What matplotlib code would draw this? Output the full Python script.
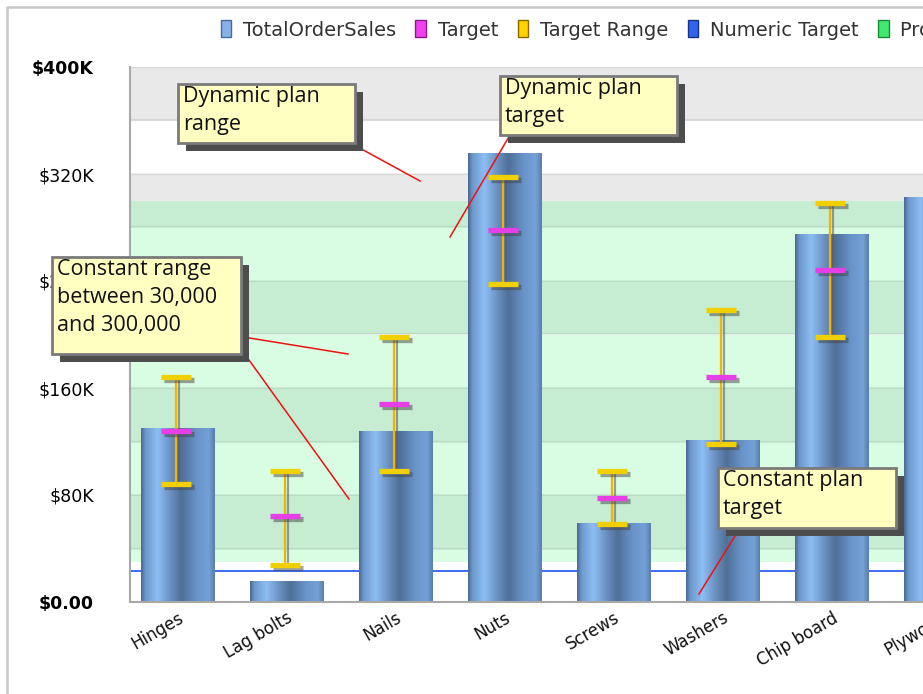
import numpy as np
import matplotlib.pyplot as plt
import matplotlib.patheffects as pe
from matplotlib.patches import Patch, Rectangle
from matplotlib.lines import Line2D
from matplotlib.colors import LinearSegmentedColormap

W, H = 923, 694

categories = ['Hinges', 'Lag bolts', 'Nails', 'Nuts', 'Screws', 'Washers', 'Chip board', 'Plywood']
order_sales = [130000, 15500, 128000, 336000, 59000, 121000, 275000, 303000]
targets = [128000, 64000, 148000, 278000, 78000, 168000, 248000, np.nan]
range_low = [88000, 28000, 98000, 238000, 58000, 118000, 198000, np.nan]
range_high = [168000, 98000, 198000, 318000, 98000, 218000, 298000, np.nan]
numeric_target = 23000
plan_low, plan_high = 30000, 300000
y_ticks = [0, 80000, 160000, 240000, 320000, 400000]
y_tick_labels = ['$0.00', '$80K', '$160K', '$240K', '$320K', '$400K']
legend_labels = ['TotalOrderSales', 'Target', 'Target Range', 'Numeric Target', 'Projected Range']


def px(x, y):
    # pixel position (top-left origin) -> figure fraction
    return (x / W, 1 - y / H)


fig = plt.figure(figsize=(W / 100, H / 100), dpi=100)
ax = fig.add_axes([130 / W, 1 - 602 / H, 981 / W, 535 / H])

# alternating bands every 40K, tinted green inside the plan range
step = 40000
for i, lo in enumerate(range(0, 400000, step)):
    hi = lo + step
    shaded = i % 2 == 1
    ax.axhspan(lo, hi, color='#e9e9e9' if shaded else 'white', lw=0, zorder=0)
    g_lo, g_hi = max(lo, plan_low), min(hi, plan_high)
    if g_lo < g_hi:
        ax.axhspan(g_lo, g_hi, color='#c6edd2' if shaded else '#d9fde2', lw=0, zorder=0.5)
for y in range(step, 400001, step):
    ax.axhline(y, color='black', alpha=0.07, lw=1.6, zorder=1)

ax.axhline(numeric_target, color='#3d6cf0', lw=1.4, zorder=1.5)

# cylinder-style bars
x = np.arange(len(categories))
bars = ax.bar(x, order_sales, width=0.67, color='none', edgecolor='none', zorder=3)
stops = [(0.00, '#4a6890'), (0.06, '#6d98cc'), (0.22, '#8cbef4'), (0.40, '#6a90c0'),
         (0.55, '#4f6f98'), (0.75, '#6893c8'), (0.92, '#73a0d6'), (1.00, '#5a7eab')]
cyl = LinearSegmentedColormap.from_list('cyl', stops)
grad = cyl(np.linspace(0, 1, 256))[None, :, :]
for rect in bars:
    x0, w, h = rect.get_x(), rect.get_width(), rect.get_height()
    im = ax.imshow(grad, extent=[x0, x0 + w, 0, h], aspect='auto',
                   interpolation='bilinear', zorder=3)
    im.set_clip_path(rect)

# target range whiskers and target markers
shadow_v = [pe.SimpleLineShadow(offset=(2.2, 0), shadow_color='#555555', alpha=0.55), pe.Normal()]
shadow_h = [pe.SimpleLineShadow(offset=(2.2, -2.2), shadow_color='#444444', alpha=0.5), pe.Normal()]
lo_arr, hi_arr, tg_arr = map(np.array, (range_low, range_high, targets))
ok = ~np.isnan(tg_arr)
xe = x[ok] - 0.02
half = 0.137
ax.vlines(xe, lo_arr[ok], hi_arr[ok], color='#f2b400', lw=1.6, zorder=5, path_effects=shadow_v)
for vals in (lo_arr[ok], hi_arr[ok]):
    ax.hlines(vals, xe - half, xe + half, color='#f0d000', lw=3.8, zorder=6, path_effects=shadow_h)
ax.hlines(tg_arr[ok], xe - half, xe + half, color='#e53fe5', lw=3.8, zorder=6, path_effects=shadow_h)

ax.set_xlim(-0.44, 8.56)
ax.set_ylim(0, 400000)
ax.set_yticks(y_ticks, y_tick_labels)
for lbl in ax.get_yticklabels():
    if lbl.get_text() in ('$0.00', '$400K'):
        lbl.set_fontweight('bold')
ax.set_xticks(x, categories, rotation=30, ha='right', rotation_mode='anchor')
ax.tick_params(axis='y', length=0, pad=26, labelsize=12.5)
ax.tick_params(axis='x', length=0, pad=5, labelsize=12, labelcolor='#111111')
for side in ('top', 'right'):
    ax.spines[side].set_visible(False)
for side in ('left', 'bottom'):
    ax.spines[side].set_color('#a8a8a8')
    ax.spines[side].set_linewidth(1.5)
    ax.spines[side].set_zorder(7)

# outer frame
fig.add_artist(Line2D([7 / W, 7 / W, 1.0], [0, 1 - 7 / H, 1 - 7 / H],
                      transform=fig.transFigure, color='#c8c8c8', lw=1.8))

# legend
colors = [('#86b2e6', '#4a6a98'), ('#f040f0', '#8a1a8a'), ('#ffd200', '#8a6a00'),
          ('#2f63f0', '#1a3380'), ('#40e870', '#1a8a3a')]
handles = [Patch(facecolor=f, edgecolor=e, lw=1) for f, e in colors]
fig.legend(handles, legend_labels, loc='upper left', bbox_to_anchor=px(203, 3),
           ncol=5, frameon=False, fontsize=14, handlelength=0.55, handleheight=0.95,
           handletextpad=0.6, columnspacing=1.0, labelcolor='#333333')


def callout(box, text, pointers):
    x0, y0, x1, y1 = box
    for (ax0, ay0), (ax1, ay1) in pointers:
        a, b = px(ax0, ay0), px(ax1, ay1)
        fig.add_artist(Line2D([a[0], b[0]], [a[1], b[1]], transform=fig.transFigure,
                              color='#ee1111', lw=1.1, zorder=4))
    sx, sy = px(x0 + 8, y1 + 8)
    fig.add_artist(Rectangle((sx, sy), (x1 - x0) / W, (y1 - y0) / H, transform=fig.transFigure,
                             facecolor='#4d4d4d', edgecolor='none', zorder=5))
    bx, by = px(x0, y1)
    fig.add_artist(Rectangle((bx, by), (x1 - x0) / W, (y1 - y0) / H, transform=fig.transFigure,
                             facecolor='#ffffc2', edgecolor='#7a7a7a', lw=2, zorder=6))
    tx, ty = px(x0 + 5, y0 + 2)
    fig.text(tx, ty, text, ha='left', va='top', fontsize=15.5, family='Open Sans',
             color='#111111', linespacing=1.45, zorder=7)


callout((178, 84, 355, 143), 'Dynamic plan\nrange', [((345, 140), (420, 181))])
callout((500, 76, 677, 135), 'Dynamic plan\ntarget', [((510, 135), (450, 237))])
callout((52, 257, 241, 354), 'Constant range\nbetween 30,000\nand 300,000',
        [((231, 335), (348, 354)), ((231, 335), (349, 499))])
callout((718, 468, 896, 528), 'Constant plan\ntarget', [((740, 528), (699, 594))])

fig.savefig('out.png', dpi=100)
